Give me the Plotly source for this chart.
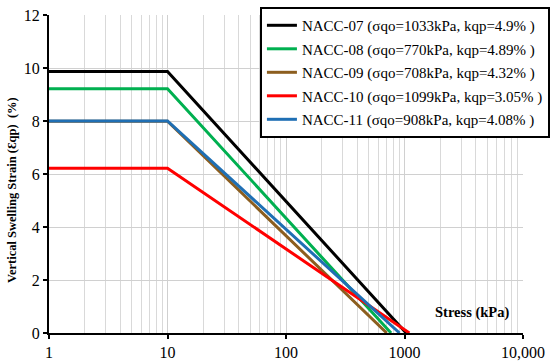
import plotly.graph_objects as go

names = ["NACC-07 (σqo=1033kPa, kqp=4.9% )",
         "NACC-08 (σqo=770kPa, kqp=4.89% )",
         "NACC-09 (σqo=708kPa, kqp=4.32% )",
         "NACC-10 (σqo=1099kPa, kqp=3.05% )",
         "NACC-11 (σqo=908kPa, kqp=4.08% )"]
colors = ["#000000", "#00b050", "#8c5e1f", "#ff0000", "#1f6fb4"]
stress_start = [1, 1, 1, 1, 1]
stress_break = [10, 10, 10, 10, 10]
sigma_qo = [1033, 770, 708, 1099, 908]
strain_max = [9.87, 9.22, 7.99, 6.22, 8.0]

x_ticks = [1, 10, 100, 1000, 10000]
x_ticktext = ["1", "10", "100", "1000", "10,000"]
minor_vals = [m * 10 ** d for d in range(4) for m in range(2, 10)]

fig = go.Figure()
for i in range(len(names)):
    fig.add_trace(go.Scatter(
        x=[stress_start[i], stress_break[i], sigma_qo[i]],
        y=[strain_max[i], strain_max[i], 0],
        mode="lines", name=names[i], legendgroup=str(i),
        line=dict(color=colors[i], width=3)))

font = "Liberation Serif"
fig.update_layout(
    width=550, height=362,
    margin=dict(l=49, r=27, t=15, b=29, autoexpand=False),
    plot_bgcolor="white", paper_bgcolor="white",
    font=dict(family=font, size=16, color="black"),
    showlegend=True,
    legend=dict(x=0.445, y=1.025, xanchor="left", yanchor="top",
                bordercolor="black", borderwidth=2, bgcolor="white",
                font=dict(family=font, size=15, color="black"),
                traceorder="grouped", tracegroupgap=1, itemwidth=30),
    xaxis=dict(type="log", range=[0, 4], tickvals=x_ticks, ticktext=x_ticktext,
               showgrid=True, gridcolor="#d0d0d0", gridwidth=1,
               minor=dict(tickvals=minor_vals, showgrid=True, gridcolor="#d9d9d9", gridwidth=1),
               showline=True, linecolor="black", linewidth=2,
               ticks="outside", ticklen=4, tickwidth=2, tickcolor="black",
               zeroline=False, automargin=False),
    yaxis=dict(range=[0, 12], dtick=2, showgrid=True, gridcolor="#d0d0d0", gridwidth=1,
               showline=True, linecolor="black", linewidth=2,
               ticks="outside", ticklen=4, tickwidth=2, tickcolor="black",
               zeroline=False, automargin=False),
)
fig.add_annotation(x=-0.078, y=0.45, xref="paper", yref="paper",
                   text="<b>Vertical Swelling Strain (Ɛqp)  (%)</b>", textangle=-90,
                   showarrow=False, font=dict(family=font, size=12.5, color="black"),
                   xanchor="center", yanchor="middle")
fig.add_annotation(x=3.57, y=0.79, xref="x", yref="y", text="<b>Stress (kPa)</b>",
                   showarrow=False, font=dict(family=font, size=14.5, color="black"),
                   xanchor="center", yanchor="middle")
fig.write_html("out.html", config={"displayModeBar": False},
               post_script="document.body.style.margin='0';")
